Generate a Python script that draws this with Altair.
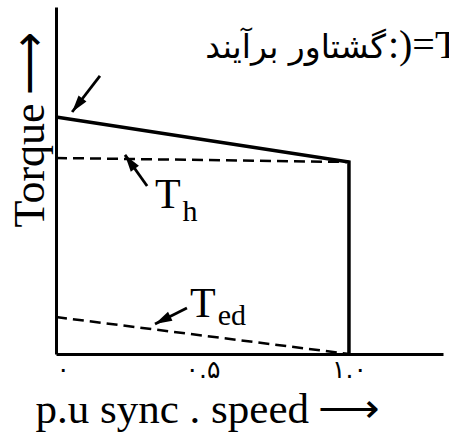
import math
import altair as alt
import pandas as pd

# --- curves (speed in p.u., torque in units of the starting total torque) ---
total_speed = [0.0, 1.0, 1.0]
total_torque = [1.0, 0.81, 0.0]

th_speed = [0.0, 1.0]
th_torque = [0.827, 0.81]

ted_speed = [0.0, 1.0]
ted_torque = [0.156, 0.0]

# --- axis ticks ---
tick_values = [0.0, 0.5, 1.0]
tick_labels = ["۰", "۰.۵", "۱.۰"]

# --- pointer arrows (tail -> tip) ---
arrow_tail_x = [0.150, 0.311, 0.447]
arrow_tail_y = [1.173, 0.709, 0.194]
arrow_tip_x = [0.055, 0.2355, 0.338]
arrow_tip_y = [1.021, 0.840, 0.127]

# --- curve labels: main letter and subscript ---
label_main = ["T", "T"]
label_main_x = [0.338, 0.457]
label_main_y = [0.616, 0.156]
label_sub = ["h", "ed"]
label_sub_x = [0.432, 0.552]
label_sub_y = [0.561, 0.122]

# --- resultant torque note ---
note_fa = "گشتاور برآیند"
note_fa_x = [1.126]
note_fa_y = [1.249]
note_eq = ":)=T"
note_eq_x = [1.133]
note_eq_y = [1.249]

# layout
W, H = 387, 347
X_MAX, Y_MAX = 1.321, 1.464
px_x = W / X_MAX
px_y = H / Y_MAX

xs = alt.Scale(domain=[0, X_MAX], nice=False, zero=False)
ys = alt.Scale(domain=[0, Y_MAX], nice=False, zero=False)

label_expr = " : ".join(
    f"datum.value == {v} ? '{t}'" for v, t in zip(tick_values, tick_labels)
) + " : ''"

x_axis = alt.Axis(
    values=tick_values, labelExpr=label_expr, ticks=False, grid=False,
    domain=True, domainColor="black", domainWidth=3,
    labelFont="DejaVu Sans", labelFontSize=25, labelColor="black",
    labelPadding=3, labelBaseline="top",
    title="p.u sync . speed\u2009⟶", titleFont="Liberation Serif", titleFontSize=43,
    titleFontWeight="normal", titleColor="black", titleAlign="left",
    titleAnchor="start", titleX=-21, titleY=68, titleBaseline="alphabetic",
)
y_axis = alt.Axis(
    labels=False, ticks=False, grid=False,
    domain=True, domainColor="black", domainWidth=3,
    title="Torque\u2009⟶", titleFont="Liberation Serif", titleFontSize=44,
    titleFontWeight="normal", titleColor="black", titleAngle=270,
    titleX=-13, titleY=122, titleAlign="center", titleBaseline="alphabetic",
)

total_df = pd.DataFrame({"speed": total_speed, "torque": total_torque,
                         "k": list(range(len(total_speed)))})
th_df = pd.DataFrame({"speed": th_speed, "torque": th_torque})
ted_df = pd.DataFrame({"speed": ted_speed, "torque": ted_torque})

total = alt.Chart(total_df).mark_line(color="black", strokeWidth=3.5, strokeJoin="miter").encode(
    x=alt.X("speed:Q", scale=xs, axis=x_axis),
    y=alt.Y("torque:Q", scale=ys, axis=y_axis),
    order="k:Q",
)
th = alt.Chart(th_df).mark_line(color="black", strokeWidth=2.5, strokeDash=[11, 6]).encode(
    x=alt.X("speed:Q", scale=xs), y=alt.Y("torque:Q", scale=ys)
)
ted = alt.Chart(ted_df).mark_line(color="black", strokeWidth=2.5, strokeDash=[11, 6]).encode(
    x=alt.X("speed:Q", scale=xs), y=alt.Y("torque:Q", scale=ys)
)

# arrows: shaft plus a head whose tip sits on the target point
angles = []
for tx, ty, hx, hy in zip(arrow_tail_x, arrow_tail_y, arrow_tip_x, arrow_tip_y):
    dx = (hx - tx) * px_x
    dy = (hy - ty) * px_y
    angles.append(math.degrees(math.atan2(dx, dy)) % 360)
arrow_df = pd.DataFrame({"x": arrow_tail_x, "y": arrow_tail_y,
                         "x2": arrow_tip_x, "y2": arrow_tip_y, "angle": angles})
shafts = alt.Chart(arrow_df).mark_rule(color="black", strokeWidth=2.8).encode(
    x=alt.X("x:Q", scale=xs), y=alt.Y("y:Q", scale=ys), x2="x2:Q", y2="y2:Q"
)
heads = alt.Chart(arrow_df).mark_point(
    shape="M0,0L1,3.4L-1,3.4Z", filled=True, color="black", opacity=1, size=100
).encode(
    x=alt.X("x2:Q", scale=xs), y=alt.Y("y2:Q", scale=ys),
    angle=alt.Angle("angle:Q", scale=None),
)

main_df = pd.DataFrame({"x": label_main_x, "y": label_main_y, "t": label_main})
sub_df = pd.DataFrame({"x": label_sub_x, "y": label_sub_y, "t": label_sub})
mains = alt.Chart(main_df).mark_text(
    font="Liberation Serif", fontSize=42, align="left", baseline="alphabetic", color="black"
).encode(x=alt.X("x:Q", scale=xs), y=alt.Y("y:Q", scale=ys), text="t:N")
subs = alt.Chart(sub_df).mark_text(
    font="Liberation Serif", fontSize=30, align="left", baseline="alphabetic", color="black"
).encode(x=alt.X("x:Q", scale=xs), y=alt.Y("y:Q", scale=ys), text="t:N")

fa_df = pd.DataFrame({"x": note_fa_x, "y": note_fa_y, "t": [note_fa]})
eq_df = pd.DataFrame({"x": note_eq_x, "y": note_eq_y, "t": [note_eq]})
note_fa_mark = alt.Chart(fa_df).mark_text(
    font="DejaVu Sans", fontSize=33, align="right", baseline="alphabetic", color="black"
).encode(x=alt.X("x:Q", scale=xs), y=alt.Y("y:Q", scale=ys), text="t:N")
note_eq_mark = alt.Chart(eq_df).mark_text(
    font="Liberation Serif", fontSize=40, align="left", baseline="alphabetic", color="black"
).encode(x=alt.X("x:Q", scale=xs), y=alt.Y("y:Q", scale=ys), text="t:N")

chart = alt.layer(
    total, th, ted, shafts, heads, mains, subs, note_fa_mark, note_eq_mark
).properties(
    width=W, height=H,
    autosize=alt.AutoSizeParams(type="none"),
    padding={"left": 56, "top": 7, "right": 6, "bottom": 84},
    background="white",
).configure_view(stroke=None)

chart.save("out.html", embed_options={"renderer": "svg", "actions": False})
